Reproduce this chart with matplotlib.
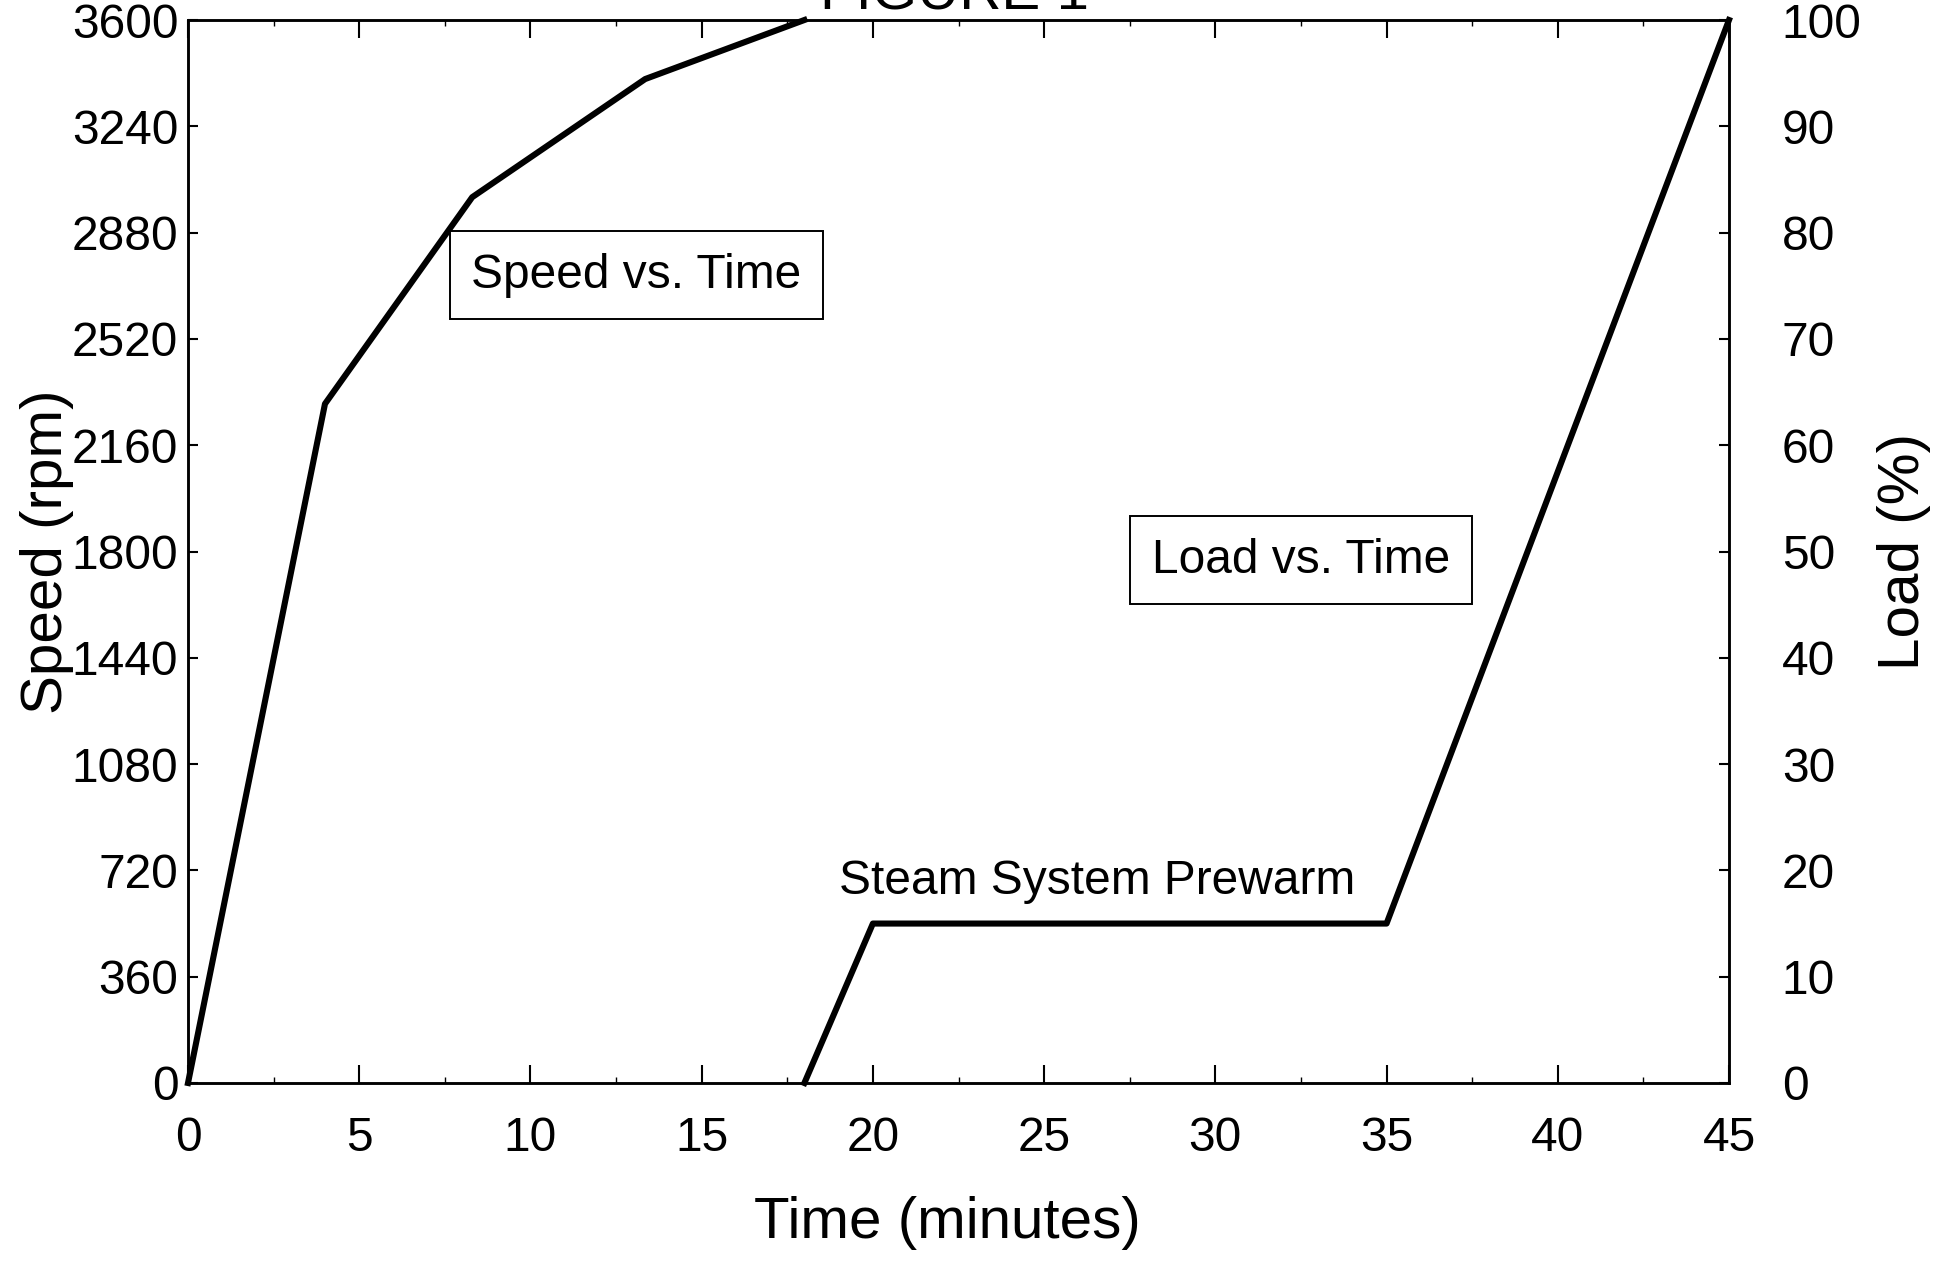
import numpy as np
import matplotlib
matplotlib.use("Agg")
import matplotlib.pyplot as plt
from matplotlib.ticker import MultipleLocator

plt.rcParams['font.family'] = ['Liberation Sans', 'DejaVu Sans']

# speed ramp (rpm) and load ramp (%) against time in minutes
speed_time = [0, 4, 8.3, 13.35, 18]
speed_rpm = [0, 2300, 3000, 3400, 3600]
load_time = [18, 20, 35, 45]
load_pct = [0, 15, 15, 100]

x_ticks = [0, 5, 10, 15, 20, 25, 30, 35, 40, 45]
speed_ticks = [0, 360, 720, 1080, 1440, 1800, 2160, 2520, 2880, 3240, 3600]
load_ticks = [0, 10, 20, 30, 40, 50, 60, 70, 80, 90, 100]

fig = plt.figure(figsize=(19.37, 12.61), dpi=100)
ax = fig.add_axes([188 / 1937, 1 - 1083 / 1261, (1729 - 188) / 1937, (1083 - 20) / 1261])
ax2 = ax.twinx()

ax.plot(speed_time, speed_rpm, color='black', lw=4.4, solid_joinstyle='round', clip_on=False)
ax2.plot(load_time, load_pct, color='black', lw=4.4, solid_joinstyle='round', clip_on=False)

ax.set_xlim(0, 45)
ax.set_ylim(0, 3600)
ax2.set_ylim(0, 100)
ax.set_xticks(x_ticks)
ax.set_yticks(speed_ticks)
ax2.set_yticks(load_ticks)
ax.xaxis.set_minor_locator(MultipleLocator(2.5))

for a in (ax, ax2):
    for s in a.spines.values():
        s.set_linewidth(1.8)

ax.tick_params(axis='x', which='major', direction='in', length=13, width=1.5,
               top=True, labelsize=34.5, pad=24)
ax.tick_params(axis='x', which='minor', direction='in', length=4, width=1, top=True)
ax.tick_params(axis='y', direction='in', length=7, width=1.5, labelsize=34.5, pad=7)
ax2.tick_params(axis='y', direction='in', length=7, width=1.5, labelsize=34.5, pad=38)

ax.set_xlabel('Time (minutes)', fontsize=42)
ax.xaxis.set_label_coords(0.493, -0.106)
ax.set_ylabel('Speed (rpm)', fontsize=42)
ax.yaxis.set_label_coords(-0.074, 0.5)
ax2.set_ylabel('Load (%)', fontsize=42)
ax2.yaxis.set_label_coords(1.096, 0.5)

box = dict(boxstyle='square,pad=0.45', facecolor='white', edgecolor='black', linewidth=1.4)
ax.text(13.1, 2735, 'Speed vs. Time', fontsize=34.5, ha='center', va='center', bbox=box)
ax2.text(32.5, 49.2, 'Load vs. Time', fontsize=34.5, ha='center', va='center', bbox=box)
ax2.text(26.56, 19.0, 'Steam System Prewarm', fontsize=34.5, ha='center', va='center')

fig.text(955 / 1937, 1 - 9 / 1261, 'FIGURE 1', fontsize=42, ha='center', va='baseline')

fig.savefig('out.png', dpi=100, facecolor='white')
